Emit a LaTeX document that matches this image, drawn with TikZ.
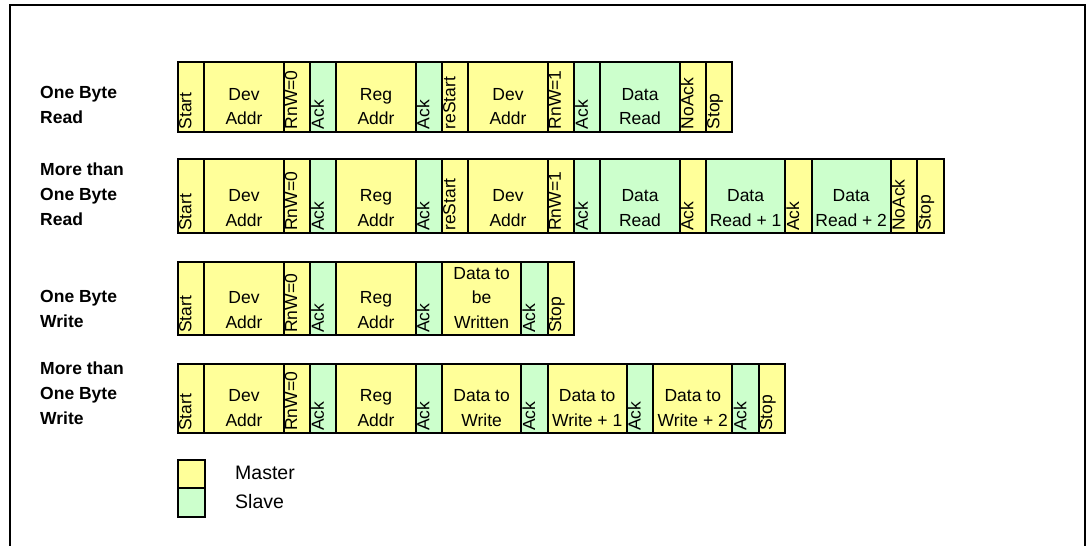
\documentclass[tikz,border=0pt]{standalone}
\usepackage{fontspec}
\setmainfont{Liberation Sans}
\definecolor{mfill}{HTML}{FFFF99}
\definecolor{sfill}{HTML}{CCFFCC}
\tikzset{
  cell/.style={draw=black, line width=2pt, inner sep=0pt, rectangle},
  m/.style={fill=mfill},
  s/.style={fill=sfill},
  htext/.style={inner sep=0pt, align=center, font=\fontsize{17.5}{24.5}\selectfont},
  vtext/.style={inner sep=0pt, rotate=90, font=\fontsize{17.5}{21}\selectfont},
  lbl/.style={inner sep=0pt, align=left, font=\fontsize{17.5}{25}\selectfont\bfseries},
  legtext/.style={inner sep=0pt, anchor=west, font=\fontsize{19.5}{24}\selectfont},
  frame/.style={draw=black, line width=2.5pt}
}
\newcommand\hc[5]{%
  \node[cell,#4,minimum width=#3pt,minimum height=\rh pt,anchor=north west] (#1) at (#2,\rt) {};
  \node[htext,anchor=south] (#1-t) at ([yshift=7.5pt]#1.south) {#5};
}
\newcommand\vc[4]{%
  \node[cell,#3,minimum width=26.4pt,minimum height=\rh pt,anchor=north west] (#1) at (#2,\rt) {};
  \node[vtext,anchor=north west] (#1-t) at ([xshift=2pt,yshift=3pt]#1.south west) {#4};
}
\begin{document}
\begin{tikzpicture}[x=1pt,y=-1pt]
\useasboundingbox (0,0) rectangle (1090,546);
\draw[frame] (10,600) -- (10,5) -- (1085,5) -- (1085,600);

% Row 1: One Byte Read
\def\rt{61}\def\rh{69.5}
\node[lbl,anchor=south west] (l1) at (40,124) {One Byte\\Read};
\vc{a1}{177}{m}{Start}
\hc{a2}{203.4}{79.2}{m}{Dev\\Addr}
\vc{a3}{282.6}{m}{RnW=0}
\vc{a4}{309}{s}{Ack}
\hc{a5}{335.4}{79.2}{m}{Reg\\Addr}
\vc{a6}{414.6}{s}{Ack}
\vc{a7}{441}{m}{reStart}
\hc{a8}{467.4}{79.2}{m}{Dev\\Addr}
\vc{a9}{546.6}{m}{RnW=1}
\vc{a10}{573}{s}{Ack}
\hc{a11}{599.4}{79.2}{s}{Data\\Read}
\vc{a12}{678.6}{m}{NoAck}
\vc{a13}{705}{m}{Stop}

% Row 2: More than One Byte Read
\def\rt{158}\def\rh{74}
\node[lbl,anchor=south west] (l2) at (40,226) {More than\\One Byte\\Read};
\vc{b1}{177}{m}{Start}
\hc{b2}{203.4}{79.2}{m}{Dev\\Addr}
\vc{b3}{282.6}{m}{RnW=0}
\vc{b4}{309}{s}{Ack}
\hc{b5}{335.4}{79.2}{m}{Reg\\Addr}
\vc{b6}{414.6}{s}{Ack}
\vc{b7}{441}{m}{reStart}
\hc{b8}{467.4}{79.2}{m}{Dev\\Addr}
\vc{b9}{546.6}{m}{RnW=1}
\vc{b10}{573}{s}{Ack}
\hc{b11}{599.4}{79.2}{s}{Data\\Read}
\vc{b12}{678.6}{m}{Ack}
\hc{b13}{705}{79.2}{s}{Data\\Read + 1}
\vc{b14}{784.2}{m}{Ack}
\hc{b15}{810.6}{79.2}{s}{Data\\Read + 2}
\vc{b16}{889.8}{m}{NoAck}
\vc{b17}{916.2}{m}{Stop}

% Row 3: One Byte Write
\def\rt{261}\def\rh{73}
\node[lbl,anchor=south west] (l3) at (40,328) {One Byte\\Write};
\vc{c1}{177}{m}{Start}
\hc{c2}{203.4}{79.2}{m}{Dev\\Addr}
\vc{c3}{282.6}{m}{RnW=0}
\vc{c4}{309}{s}{Ack}
\hc{c5}{335.4}{79.2}{m}{Reg\\Addr}
\vc{c6}{414.6}{s}{Ack}
\hc{c7}{441}{79.2}{m}{Data to\\be\\Written}
\vc{c8}{520.2}{s}{Ack}
\vc{c9}{546.6}{m}{Stop}

% Row 4: More than One Byte Write
\def\rt{363}\def\rh{69}
\node[lbl,anchor=south west] (l4) at (40,425) {More than\\One Byte\\Write};
\vc{d1}{177}{m}{Start}
\hc{d2}{203.4}{79.2}{m}{Dev\\Addr}
\vc{d3}{282.6}{m}{RnW=0}
\vc{d4}{309}{s}{Ack}
\hc{d5}{335.4}{79.2}{m}{Reg\\Addr}
\vc{d6}{414.6}{s}{Ack}
\hc{d7}{441}{79.2}{m}{Data to\\Write}
\vc{d8}{520.2}{s}{Ack}
\hc{d9}{546.6}{79.2}{m}{Data to\\Write + 1}
\vc{d10}{625.8}{s}{Ack}
\hc{d11}{652.2}{79.2}{m}{Data to\\Write + 2}
\vc{d12}{731.4}{s}{Ack}
\vc{d13}{757.8}{m}{Stop}

% Legend
\node[cell,m,minimum width=27pt,minimum height=28pt,anchor=north west] (lm) at (177,459) {};
\node[cell,s,minimum width=27pt,minimum height=29pt,anchor=north west] (ls) at (177,487) {};
\node[legtext] (lmt) at (235,473) {Master};
\node[legtext] (lst) at (235,502) {Slave};
\end{tikzpicture}
\end{document}
